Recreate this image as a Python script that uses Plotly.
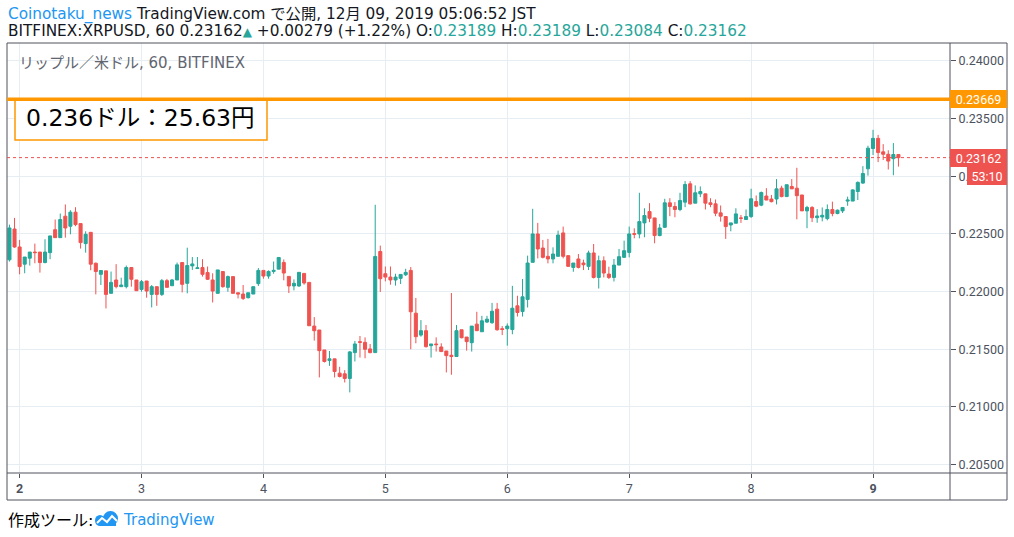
import pandas as pd
import plotly.graph_objects as go

# XRPUSD 60分足 (BITFINEX), 2019-12-01 22:00 から
times = pd.date_range("2019-12-01 22:00", periods=176, freq="h")

opens = [
    0.22276, 0.22543, 0.22387, 0.22238, 0.22290, 0.22343, 0.22343, 0.22252, 0.22338, 0.22537,
    0.22468, 0.22654, 0.22567, 0.22689, 0.22590, 0.22416, 0.22514, 0.22246, 0.22150, 0.22180,
    0.21985, 0.22101, 0.22043, 0.22043, 0.22209, 0.22101, 0.22019, 0.22092, 0.21976, 0.22043,
    0.21976, 0.22095, 0.22051, 0.22101, 0.22252, 0.22072, 0.22223, 0.22200, 0.22209, 0.22165,
    0.22101, 0.21985, 0.22174, 0.22037, 0.22130, 0.21990, 0.21979, 0.21947, 0.21979, 0.22069,
    0.22184, 0.22135, 0.22175, 0.22195, 0.22253, 0.22132, 0.22049, 0.22049, 0.22158, 0.22080,
    0.21701, 0.21667, 0.21494, 0.21402, 0.21417, 0.21293, 0.21287, 0.21247, 0.21471, 0.21566,
    0.21560, 0.21503, 0.21471, 0.22348, 0.22155, 0.22126, 0.22101, 0.22115, 0.22146, 0.22184,
    0.21813, 0.21623, 0.21661, 0.21531, 0.21546, 0.21520, 0.21485, 0.21448, 0.21437, 0.21669,
    0.21606, 0.21557, 0.21718, 0.21652, 0.21736, 0.21730, 0.21848, 0.21678, 0.21678, 0.21671,
    0.21877, 0.21827, 0.21932, 0.22254, 0.22500, 0.22378, 0.22306, 0.22283, 0.22306, 0.22509,
    0.22312, 0.22210, 0.22283, 0.22248, 0.22219, 0.22335, 0.22123, 0.22268, 0.22152, 0.22123,
    0.22230, 0.22297, 0.22340, 0.22503, 0.22500, 0.22596, 0.22694, 0.22639, 0.22486, 0.22558,
    0.22770, 0.22738, 0.22712, 0.22776, 0.22935, 0.22767, 0.22848, 0.22848, 0.22770, 0.22761,
    0.22683, 0.22651, 0.22578, 0.22593, 0.22639, 0.22625, 0.22651, 0.22781, 0.22750, 0.22829,
    0.22803, 0.22803, 0.22897, 0.22824, 0.22912, 0.22897, 0.22838, 0.22700, 0.22730, 0.22641,
    0.22647, 0.22633, 0.22712, 0.22677, 0.22700, 0.22785, 0.22785, 0.22868, 0.22941, 0.23065,
    0.23241, 0.23329, 0.23212, 0.23191, 0.23153, 0.23189,
]
highs = [
    0.22581, 0.22639, 0.22448, 0.22300, 0.22343, 0.22416, 0.22343, 0.22454, 0.22483, 0.22625,
    0.22677, 0.22756, 0.22706, 0.22732, 0.22590, 0.22523, 0.22514, 0.22252, 0.22183, 0.22180,
    0.22174, 0.22238, 0.22121, 0.22226, 0.22209, 0.22101, 0.22101, 0.22092, 0.22057, 0.22043,
    0.22110, 0.22110, 0.22110, 0.22252, 0.22252, 0.22381, 0.22300, 0.22300, 0.22281, 0.22217,
    0.22159, 0.22188, 0.22174, 0.22139, 0.22130, 0.21990, 0.22057, 0.21990, 0.22043, 0.22204,
    0.22184, 0.22184, 0.22261, 0.22296, 0.22279, 0.22132, 0.22106, 0.22167, 0.22158, 0.22080,
    0.21779, 0.21667, 0.21494, 0.21485, 0.21417, 0.21348, 0.21319, 0.21485, 0.21572, 0.21615,
    0.21603, 0.21546, 0.22753, 0.22399, 0.22218, 0.22218, 0.22155, 0.22149, 0.22198, 0.22213,
    0.21945, 0.21753, 0.21710, 0.21546, 0.21603, 0.21552, 0.21485, 0.21988, 0.21710, 0.21669,
    0.21606, 0.21701, 0.21825, 0.21790, 0.21790, 0.21902, 0.21902, 0.21701, 0.21724, 0.22050,
    0.21964, 0.22109, 0.22312, 0.22718, 0.22596, 0.22448, 0.22457, 0.22384, 0.22529, 0.22564,
    0.22312, 0.22248, 0.22326, 0.22277, 0.22355, 0.22413, 0.22312, 0.22306, 0.22216, 0.22283,
    0.22370, 0.22442, 0.22564, 0.22549, 0.22857, 0.22723, 0.22767, 0.22639, 0.22587, 0.22805,
    0.22810, 0.22776, 0.22857, 0.22958, 0.22958, 0.22921, 0.22912, 0.22848, 0.22810, 0.22799,
    0.22747, 0.22651, 0.22596, 0.22723, 0.22665, 0.22712, 0.22892, 0.22834, 0.22868, 0.22897,
    0.22838, 0.22976, 0.22918, 0.22927, 0.22976, 0.23074, 0.22838, 0.22744, 0.22741, 0.22715,
    0.22730, 0.22756, 0.22780, 0.22712, 0.22730, 0.22824, 0.22888, 0.22956, 0.23088, 0.23265,
    0.23403, 0.23359, 0.23279, 0.23226, 0.23288, 0.23189,
]
lows = [
    0.22261, 0.22381, 0.22150, 0.22159, 0.22226, 0.22246, 0.22165, 0.22246, 0.22281, 0.22468,
    0.22468, 0.22468, 0.22497, 0.22567, 0.22373, 0.22338, 0.22185, 0.21976, 0.22057, 0.21854,
    0.21985, 0.22028, 0.22043, 0.22028, 0.22043, 0.22005, 0.21999, 0.21947, 0.21863, 0.21877,
    0.21962, 0.22037, 0.22051, 0.22101, 0.21993, 0.21985, 0.22188, 0.22197, 0.22130, 0.22101,
    0.21906, 0.21985, 0.22034, 0.21999, 0.21985, 0.21941, 0.21927, 0.21941, 0.21979, 0.22049,
    0.22112, 0.22112, 0.22155, 0.22195, 0.22098, 0.21988, 0.22011, 0.22040, 0.22060, 0.21704,
    0.21575, 0.21256, 0.21385, 0.21356, 0.21256, 0.21256, 0.21212, 0.21126, 0.21394, 0.21428,
    0.21422, 0.21465, 0.21471, 0.21997, 0.22089, 0.22060, 0.22052, 0.22066, 0.22135, 0.21500,
    0.21552, 0.21609, 0.21514, 0.21428, 0.21480, 0.21480, 0.21299, 0.21279, 0.21437, 0.21595,
    0.21488, 0.21480, 0.21661, 0.21652, 0.21727, 0.21721, 0.21661, 0.21623, 0.21531, 0.21630,
    0.21784, 0.21784, 0.21862, 0.22254, 0.22288, 0.22288, 0.22245, 0.22245, 0.22306, 0.22288,
    0.22216, 0.22172, 0.22201, 0.22187, 0.22187, 0.22114, 0.22027, 0.22123, 0.22109, 0.22088,
    0.22230, 0.22297, 0.22297, 0.22462, 0.22462, 0.22471, 0.22602, 0.22419, 0.22480, 0.22552,
    0.22654, 0.22645, 0.22697, 0.22732, 0.22755, 0.22767, 0.22819, 0.22712, 0.22732, 0.22654,
    0.22607, 0.22457, 0.22523, 0.22593, 0.22596, 0.22625, 0.22639, 0.22732, 0.22741, 0.22794,
    0.22774, 0.22756, 0.22818, 0.22824, 0.22891, 0.22627, 0.22700, 0.22550, 0.22603, 0.22597,
    0.22609, 0.22618, 0.22653, 0.22671, 0.22682, 0.22744, 0.22785, 0.22794, 0.22935, 0.23006,
    0.23185, 0.23123, 0.23141, 0.23059, 0.23009, 0.23084,
]
closes = [
    0.22552, 0.22387, 0.22217, 0.22300, 0.22343, 0.22338, 0.22252, 0.22343, 0.22483, 0.22468,
    0.22625, 0.22552, 0.22689, 0.22581, 0.22425, 0.22497, 0.22238, 0.22174, 0.22183, 0.21976,
    0.22080, 0.22043, 0.22057, 0.22209, 0.22107, 0.22008, 0.22086, 0.22005, 0.22043, 0.21976,
    0.22095, 0.22037, 0.22101, 0.22232, 0.22063, 0.22226, 0.22240, 0.22206, 0.22150, 0.22107,
    0.22005, 0.22188, 0.22043, 0.22130, 0.21985, 0.21979, 0.21941, 0.21990, 0.22043, 0.22184,
    0.22135, 0.22175, 0.22184, 0.22296, 0.22161, 0.22049, 0.22072, 0.22167, 0.22075, 0.21704,
    0.21661, 0.21488, 0.21394, 0.21417, 0.21307, 0.21264, 0.21247, 0.21477, 0.21546, 0.21560,
    0.21500, 0.21471, 0.22305, 0.22112, 0.22126, 0.22101, 0.22126, 0.22149, 0.22167, 0.21825,
    0.21609, 0.21661, 0.21523, 0.21546, 0.21540, 0.21480, 0.21445, 0.21437, 0.21661, 0.21600,
    0.21566, 0.21701, 0.21661, 0.21747, 0.21761, 0.21830, 0.21669, 0.21672, 0.21701, 0.21856,
    0.21819, 0.21955, 0.22248, 0.22500, 0.22370, 0.22297, 0.22283, 0.22326, 0.22491, 0.22306,
    0.22219, 0.22248, 0.22210, 0.22233, 0.22335, 0.22123, 0.22268, 0.22161, 0.22123, 0.22230,
    0.22303, 0.22355, 0.22500, 0.22497, 0.22607, 0.22660, 0.22636, 0.22486, 0.22552, 0.22770,
    0.22738, 0.22712, 0.22790, 0.22929, 0.22761, 0.22857, 0.22868, 0.22767, 0.22755, 0.22680,
    0.22654, 0.22564, 0.22596, 0.22674, 0.22636, 0.22651, 0.22805, 0.22741, 0.22859, 0.22794,
    0.22780, 0.22891, 0.22824, 0.22927, 0.22891, 0.22832, 0.22700, 0.22730, 0.22641, 0.22656,
    0.22662, 0.22712, 0.22677, 0.22706, 0.22730, 0.22794, 0.22882, 0.22947, 0.23024, 0.23244,
    0.23329, 0.23206, 0.23191, 0.23132, 0.23189, 0.23162,
]

day_ticks = ["2019-12-02", "2019-12-03", "2019-12-04", "2019-12-05",
             "2019-12-06", "2019-12-07", "2019-12-08", "2019-12-09"]
day_labels = ["<b>2</b>", "3", "4", "5", "6", "7", "8", "<b>9</b>"]
price_ticks = [0.205, 0.21, 0.215, 0.22, 0.225, 0.23, 0.235, 0.24]

alert_price = 0.23669
change = "+0.00279 (+1.22%)"
published = "12月 09, 2019 05:06:52 JST"
countdown = "53:10"

UP = "#26a69a"
DOWN = "#ef5350"
ORANGE = "#ff9800"
FRAME = "#50535e"
GRID = "#e6edf3"
TXT = "#131722"
AXIS_FONT = dict(family="Liberation Sans Narrow, Roboto", size=12.5, color="#4c525e")

# plot area in pixels (window 1014x537)
L, R, T, B = 7, 950, 43, 473


def fx(px):
    return (px - L) / (R - L)


def fy(py):
    return (B - py) / (B - T)


fig = go.Figure(go.Candlestick(
    x=times, open=opens, high=highs, low=lows, close=closes,
    increasing=dict(line=dict(color=UP, width=1), fillcolor=UP),
    decreasing=dict(line=dict(color=DOWN, width=1), fillcolor=DOWN),
    whiskerwidth=0, hoverinfo="skip",
))

shapes = []
# 枠線
for x0, y0, x1, y1 in [(7, 43, 1007, 43), (7, 500, 1007, 500), (7, 473, 1007, 473),
                       (7, 43, 7, 500), (1007, 43, 1007, 500), (950, 43, 950, 500)]:
    shapes.append(dict(type="line", xref="paper", yref="paper",
                       x0=fx(x0), y0=fy(y0), x1=fx(x1), y1=fy(y1),
                       line=dict(color=FRAME, width=1)))
# 最終価格ライン
shapes.append(dict(type="line", xref="paper", yref="y", x0=0, x1=1,
                   y0=closes[-1], y1=closes[-1],
                   line=dict(color=DOWN, width=1, dash="dot")))
# テキストボックス
shapes.append(dict(type="rect", xref="paper", yref="paper",
                   x0=fx(15), x1=fx(267), y0=fy(140), y1=fy(99),
                   fillcolor="white", line=dict(color=ORANGE, width=1.5)))
# アラートライン
shapes.append(dict(type="line", xref="paper", yref="y", x0=0, x1=1,
                   y0=alert_price, y1=alert_price,
                   line=dict(color=ORANGE, width=3.5)))
# TradingView ロゴ (雲)
shapes.append(dict(type="circle", xref="paper", yref="paper", fillcolor="#2196f3",
                   line=dict(width=0), x0=fx(103), x1=fx(118), y0=fy(526), y1=fy(511)))
shapes.append(dict(type="circle", xref="paper", yref="paper", fillcolor="#2196f3",
                   line=dict(width=0), x0=fx(95), x1=fx(105), y0=fy(526), y1=fy(515)))
shapes.append(dict(type="rect", xref="paper", yref="paper", fillcolor="#2196f3",
                   line=dict(width=0), x0=fx(100), x1=fx(116), y0=fy(526), y1=fy(519)))
zig = [(97, 523), (102, 518), (107, 522), (112, 516), (117, 521)]
shapes.append(dict(type="path", xref="paper", yref="paper",
                   path="M " + " L ".join(f"{fx(a):.5f},{fy(b):.5f}" for a, b in zig),
                   line=dict(color="white", width=2)))

up_span = '<span style="color:%s">%%s</span>' % UP
line1 = ('<span style="color:#2196f3">Coinotaku_news</span> TradingView.com で公開, '
         + published)
line2 = ('BITFINEX:XRPUSD, 60 %.5f<span style="color:%s;font-size:12px">▲</span> %s '
         'O:%s H:%s L:%s C:%s') % (
    closes[-1], UP, change,
    up_span % f"{opens[-1]:.5f}", up_span % f"{highs[-1]:.5f}",
    up_span % f"{lows[-1]:.5f}", up_span % f"{closes[-1]:.5f}")

ann = [
    dict(text=line1, x=fx(6), y=fy(15)),
    dict(text=line2, x=fx(6), y=fy(31)),
    dict(text="リップル／米ドル, 60, BITFINEX", x=fx(17), y=fy(63),
         font=dict(size=15, color="#62656f")),
    dict(text="0.236ドル：25.63円", x=fx(24), y=fy(118),
         font=dict(size=23.5, color="black")),
    dict(text="作成ツール:", x=fx(6), y=fy(520), font=dict(size=16, color="black")),
    dict(text="TradingView", x=fx(121), y=fy(520), font=dict(size=15, color="#2196f3")),
]
annotations = []
for a in ann:
    d = dict(xref="paper", yref="paper", xanchor="left", yanchor="middle",
             showarrow=False, font=dict(size=15.3, color=TXT))
    d.update(a)
    annotations.append(d)

# 価格ラベル
for price, col in [(alert_price, ORANGE), (closes[-1], DOWN)]:
    annotations.append(dict(xref="paper", yref="y", x=fx(950), y=price,
                            text=f"{price:.5f}", showarrow=False,
                            xanchor="left", yanchor="middle", align="center",
                            width=55, height=16, borderpad=1, borderwidth=0,
                            bgcolor=col, font=dict(AXIS_FONT, color="white")))
annotations.append(dict(xref="paper", yref="paper", x=fx(967), y=fy(175.5),
                        text=countdown, showarrow=False, xanchor="left",
                        yanchor="middle", align="center", width=38, height=16,
                        borderpad=1, borderwidth=0, bgcolor=DOWN,
                        font=dict(AXIS_FONT, color="white")))

fig.update_layout(
    width=1014, height=537,
    margin=dict(l=L, r=1014 - R, t=T, b=537 - B),
    paper_bgcolor="white", plot_bgcolor="white",
    font=dict(family="DejaVu Sans, Noto Sans CJK JP", color=TXT),
    showlegend=False,
    boxgap=0.2, boxgroupgap=0.25,
    shapes=shapes, annotations=annotations,
    xaxis=dict(
        type="date", range=["2019-12-01 21:31", "2019-12-09 15:09"],
        rangeslider=dict(visible=False),
        tickvals=day_ticks, ticktext=day_labels,
        showgrid=True, gridcolor=GRID, gridwidth=1,
        ticks="outside", ticklen=4, tickcolor=FRAME,
        showline=False, zeroline=False,
        tickfont=AXIS_FONT,
    ),
    yaxis=dict(
        side="right", range=[0.20427, 0.24156],
        tickvals=price_ticks, tickformat=".5f",
        showgrid=True, gridcolor=GRID, gridwidth=1,
        ticks="outside", ticklen=5, tickcolor=FRAME,
        showline=False, zeroline=False,
        tickfont=AXIS_FONT,
    ),
)

# ページの余白を消してウィンドウ左上に合わせる
fig.write_html("out.html", config={"displayModeBar": False},
               post_script="document.body.style.margin='0';")
